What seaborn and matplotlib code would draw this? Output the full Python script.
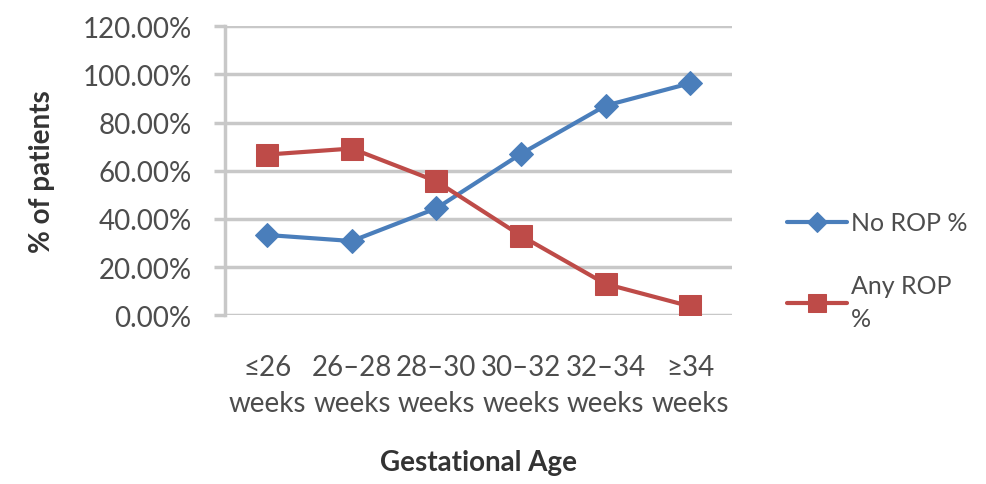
"""
Retinopathy of prematurity by gestational age, line chart.
"""

import matplotlib
matplotlib.use("Agg")
import matplotlib.pyplot as plt
import seaborn as sns
import pandas as pd

# Data
AGE_GROUPS = ["≤26\nweeks", "26–28\nweeks", "28–30\nweeks",
              "30–32\nweeks", "32–34\nweeks", "≥34\nweeks"]
NO_ROP = [0.333, 0.308, 0.444, 0.670, 0.870, 0.963]
ANY_ROP = [0.667, 0.692, 0.556, 0.330, 0.130, 0.037]
Y_TICKS = [0.0, 0.2, 0.4, 0.6, 0.8, 1.0, 1.2]

BLUE = "#4A7EBB"
RED = "#BE4B48"
GRID = "#C8C8C8"
TEXT = "#4D4D4D"

sns.set_theme(style="white")
plt.rcParams["font.family"] = ["Lato", "DejaVu Sans"]

FS = 20


def main():
    df = pd.DataFrame({"age": AGE_GROUPS, "no_rop": NO_ROP, "any_rop": ANY_ROP})

    fig = plt.figure(figsize=(9.87, 4.85), dpi=100)
    ax = fig.add_axes([0.228, 0.348, 0.514, 0.596])

    sns.lineplot(data=df, x="age", y="no_rop", ax=ax, color=BLUE, lw=3,
                 marker="D", markersize=12, markeredgecolor=BLUE,
                 label="No ROP %", sort=False)
    sns.lineplot(data=df, x="age", y="any_rop", ax=ax, color=RED, lw=3,
                 marker="s", markersize=16, markeredgecolor=RED,
                 label="Any ROP\n%", sort=False)

    ax.set_ylim(0, 1.2)
    ax.set_xlim(-0.5, len(AGE_GROUPS) - 0.5)
    ax.set_yticks(Y_TICKS)
    ax.set_yticklabels([f"{v * 100:.2f}%" for v in Y_TICKS])
    ax.yaxis.grid(True, color=GRID, lw=2.5)
    ax.set_axisbelow(True)

    for side in ["top", "right", "bottom"]:
        ax.spines[side].set_visible(False)
    ax.spines["left"].set_color(GRID)
    ax.spines["left"].set_linewidth(2.5)

    ax.tick_params(axis="y", length=8, width=2.5, color=GRID, pad=16,
                   labelsize=FS, labelcolor=TEXT, left=True)
    ax.tick_params(axis="x", length=0, pad=28, labelsize=FS, labelcolor=TEXT)
    for lbl in ax.get_xticklabels():
        lbl.set_linespacing(1.45)

    ax.set_xlabel("Gestational Age", fontsize=FS, fontweight="bold",
                  color="#333333", labelpad=24)
    ax.set_ylabel("% of patients", fontsize=FS, fontweight="bold",
                  color="#333333", labelpad=20)

    ax.get_legend().remove()
    handles, labels = ax.get_legend_handles_labels()
    leg = fig.legend(handles, labels, loc="center left", bbox_to_anchor=(0.775, 0.44),
                     frameon=False, fontsize=18, labelcolor=TEXT, handlelength=2.4,
                     handletextpad=0.15, labelspacing=1.6, markerscale=0.85)
    for t in leg.get_texts():
        t.set_linespacing(1.5)

    plt.savefig("out.png", dpi=100)
    plt.close()


if __name__ == "__main__":
    main()
